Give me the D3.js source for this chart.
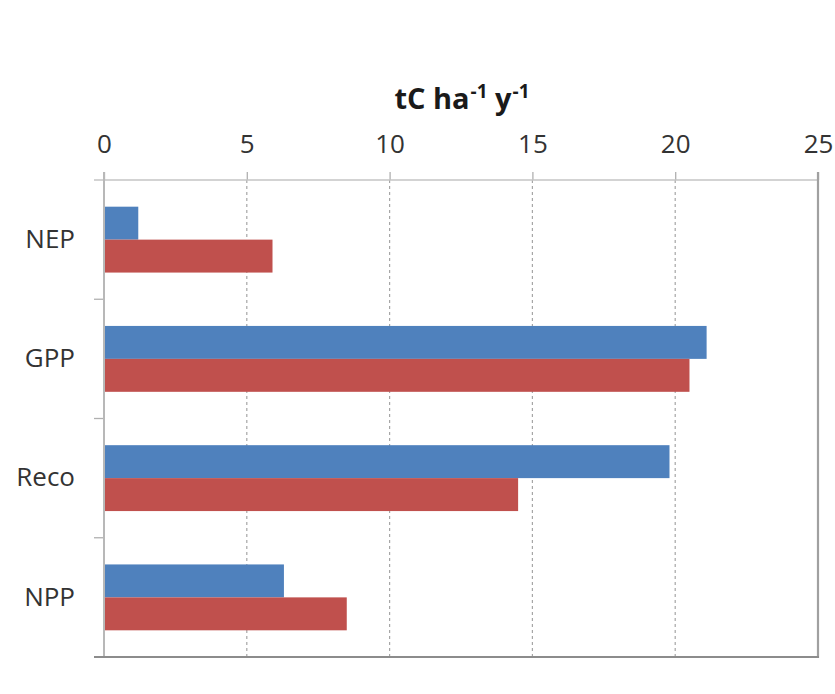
<!DOCTYPE html>
<html>
<head>
<meta charset="utf-8">
<script src="https://cdn.jsdelivr.net/npm/d3@7/dist/d3.min.js"></script>
<style>
  html, body { margin: 0; padding: 0; background: #fff; }
  svg { display: block; }
  text { font-family: "Open Sans", "Noto Sans", sans-serif; }
</style>
</head>
<body>
<svg id="chart" width="835" height="694"></svg>
<script>
// Carbon fluxes, two series per flux component
const categories = ["NEP", "GPP", "Reco", "NPP"];
const seriesNames = ["A", "B"];
const seriesA = [1.2, 21.1, 19.8, 6.3];
const seriesB = [5.9, 20.5, 14.5, 8.5];
const xTicks = [0, 5, 10, 15, 20, 25];
const colors = ["#4F81BD", "#C0504D"];

const svg = d3.select("#chart");
const plotLeft = 104, plotRight = 818, plotTop = 180, plotBottom = 657;

const x = d3.scaleLinear().domain([0, 25]).range([plotLeft, plotRight]);
const y = d3.scaleBand().domain(categories).range([plotTop, plotBottom]).paddingInner(0).paddingOuter(0);
const ySub = d3.scaleBand().domain(seriesNames).range([0, y.bandwidth()]).paddingInner(0).paddingOuter(0.81);

// vertical dashed gridlines
svg.append("g").selectAll("line")
  .data(xTicks.filter(d => d > 0 && d < 25))
  .join("line")
  .attr("x1", d => x(d)).attr("x2", d => x(d))
  .attr("y1", plotTop).attr("y2", plotBottom)
  .attr("stroke", "#a6a6a6").attr("stroke-width", 1.2)
  .attr("stroke-dasharray", "3,3");

// bars
const rows = categories.map((c, i) => ({ cat: c, values: [seriesA[i], seriesB[i]] }));
svg.append("g").selectAll("g")
  .data(rows)
  .join("g")
  .attr("transform", d => `translate(0,${y(d.cat)})`)
  .selectAll("rect")
  .data(d => d.values.map((v, j) => ({ v, s: seriesNames[j], j })))
  .join("rect")
  .attr("x", x(0))
  .attr("y", d => ySub(d.s))
  .attr("width", d => x(d.v) - x(0))
  .attr("height", ySub.bandwidth())
  .attr("fill", d => colors[d.j]);

// top value axis
const xAxis = d3.axisTop(x).tickValues(xTicks).tickSize(8).tickPadding(19).tickFormat(d3.format("d"));
const gx = svg.append("g").attr("transform", `translate(0,${plotTop})`).call(xAxis);
gx.select(".domain").remove();
gx.selectAll(".tick line").attr("stroke", "#b0b0b0").attr("stroke-width", 1.3);
gx.selectAll(".tick text").attr("font-size", 26).attr("fill", "#333");
svg.append("line")
  .attr("x1", plotLeft - 10).attr("x2", plotRight)
  .attr("y1", plotTop).attr("y2", plotTop)
  .attr("stroke", "#c4c4c4").attr("stroke-width", 1.5);

// left category axis
const yAxis = d3.axisLeft(y).tickSize(0).tickPadding(29);
const gy = svg.append("g").attr("transform", `translate(${plotLeft},0)`).call(yAxis);
gy.select(".domain").remove();
gy.selectAll(".tick text").attr("font-size", 26).attr("fill", "#333");

// category separators
const seps = categories.map(c => y(c)).concat([plotBottom]);
svg.append("g").selectAll("line")
  .data(seps.slice(1))
  .join("line")
  .attr("x1", plotLeft - 10).attr("x2", plotLeft)
  .attr("y1", d => d).attr("y2", d => d)
  .attr("stroke", "#b0b0b0").attr("stroke-width", 1.3);

svg.append("line")
  .attr("x1", plotLeft).attr("x2", plotLeft)
  .attr("y1", plotTop - 8).attr("y2", plotBottom)
  .attr("stroke", "#b8b8b8").attr("stroke-width", 2);

// right border
svg.append("line")
  .attr("x1", plotRight).attr("x2", plotRight)
  .attr("y1", plotTop - 8).attr("y2", plotBottom + 1)
  .attr("stroke", "#a0a0a0").attr("stroke-width", 2.2);

// bottom border
svg.append("line")
  .attr("x1", plotLeft - 10).attr("x2", plotRight + 1)
  .attr("y1", plotBottom).attr("y2", plotBottom)
  .attr("stroke", "#8c8c8c").attr("stroke-width", 2.2);

// axis title with superscripts
const title = svg.append("text")
  .attr("x", (plotLeft + plotRight) / 2 + 1).attr("y", 109)
  .attr("text-anchor", "middle")
  .attr("font-size", 29).attr("font-weight", "bold").attr("fill", "#1a1a1a");
title.append("tspan").text("tC ha");
title.append("tspan").attr("font-size", 19).attr("dy", -11).attr("dx", 1).text("-1");
title.append("tspan").attr("dy", 11).text(" y");
title.append("tspan").attr("font-size", 19).attr("dy", -11).attr("dx", 1).text("-1");
</script>
</body>
</html>
